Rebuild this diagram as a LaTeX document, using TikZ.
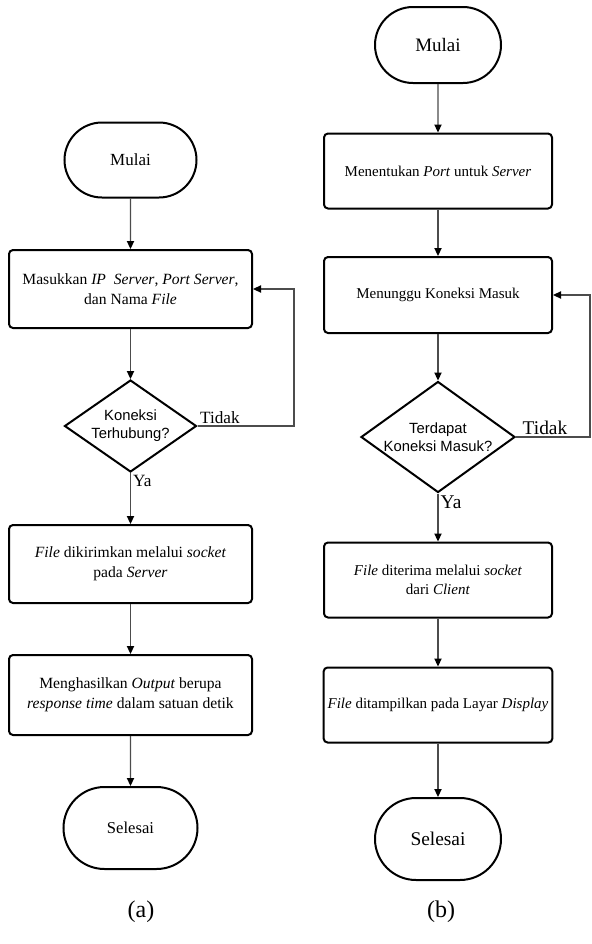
\documentclass[tikz,border=0pt]{standalone}
\usepackage{fontspec}
\setmainfont{Liberation Serif}
\newfontfamily\diafont{Liberation Sans}
\usetikzlibrary{math,arrows.meta,shapes.geometric,shapes.misc}

\tikzset{
  proses/.style={draw, line width=1pt, rounded corners=2pt, align=center, inner sep=2pt,
    font=\fontsize{7.5}{9.5}\selectfont},
  terminal/.style={draw, line width=1pt, rounded rectangle, inner sep=0pt},
  keputusan/.style={draw, line width=1pt, diamond, inner sep=0pt, align=center,
    font=\diafont\fontsize{7.4}{9}\selectfont},
  panah/.style={-{Triangle[width=3.6pt,length=4pt,color=black]}, line width=0.7pt, draw=black!70},
  ket/.style={inner sep=1pt}
}

\begin{document}
\begin{tikzpicture}[x=0.5pt, y=-0.5pt]
  \tikzmath{\xa = 130.5; \xb = 438;}
  \useasboundingbox (0,0) rectangle (591,944);

  % (a) client
  \node[terminal, minimum width=66pt, minimum height=37.5pt, font=\fontsize{8.5}{10}\selectfont] (mulaiA) at (\xa,160) {Mulai};
  \node[proses, minimum width=121.5pt, minimum height=39pt, font=\fontsize{7.8}{10}\selectfont] (inputA) at (\xa,289) {Masukkan \textit{IP}~ \textit{Server}, \textit{Port Server},\\ dan Nama \textit{File}};
  \node[keputusan, minimum width=66pt, minimum height=46pt, shape aspect=1.43] (cekA) at (\xa,426) {Koneksi\\ Terhubung?};
  \node[proses, minimum width=121.5pt, minimum height=39pt, font=\fontsize{7.8}{10}\selectfont] (kirimA) at (\xa,564) {\textit{File} dikirimkan melalui \textit{socket}\\ pada \textit{Server}};
  \node[proses, minimum width=121.5pt, minimum height=40pt, font=\fontsize{7.8}{10}\selectfont] (hasilA) at (\xa,695) {Menghasilkan \textit{Output} berupa\\ \textit{response time} dalam satuan detik};
  \node[terminal, minimum width=67pt, minimum height=41pt, font=\fontsize{8.3}{10}\selectfont] (selesaiA) at (\xa,828) {Selesai};
  \coordinate (balikA) at (294,0);

  \draw[panah] (mulaiA) -- (inputA);
  \draw[panah] (inputA) -- (cekA);
  \draw[panah] (cekA) -- node[ket, pos=0, anchor=north west, font=\fontsize{8.6}{10}\selectfont] {Ya} (kirimA);
  \draw[panah] (kirimA) -- (hasilA);
  \draw[panah] (hasilA) -- (selesaiA);
  \draw[panah] (cekA.east) -- node[ket, pos=0, anchor=south west, font=\fontsize{8.6}{10}\selectfont] {Tidak} (cekA.east -| balikA) |- (inputA.east);

  % (b) server
  \node[terminal, minimum width=63pt, minimum height=38pt, font=\fontsize{9.5}{11}\selectfont] (mulaiB) at (\xb,45) {Mulai};
  \node[proses, minimum width=114pt, minimum height=37.5pt] (portB) at (\xb,171) {Menentukan \textit{Port} untuk \textit{Server}};
  \node[proses, minimum width=114pt, minimum height=38pt] (tungguB) at (\xb,295) {Menunggu Koneksi Masuk};
  \node[keputusan, minimum width=77pt, minimum height=55.5pt, shape aspect=1.39] (cekB) at (\xb,437) {Terdapat\\ Koneksi Masuk?};
  \node[proses, minimum width=114pt, minimum height=37.5pt] (terimaB) at (\xb,580) {\textit{File} diterima melalui \textit{socket}\\ dari \textit{Client}};
  \node[proses, minimum width=114pt, minimum height=37.5pt] (tampilB) at (\xb,705) {\textit{File} ditampilkan pada Layar \textit{Display}};
  \node[terminal, minimum width=63pt, minimum height=41pt, font=\fontsize{9.7}{11}\selectfont] (selesaiB) at (\xb,839) {Selesai};
  \coordinate (balikB) at (590,0);

  \draw[panah] (mulaiB) -- (portB);
  \draw[panah] (portB) -- (tungguB);
  \draw[panah] (tungguB) -- (cekB);
  \draw[panah] (cekB) -- node[ket, pos=0, anchor=north west, font=\fontsize{9.7}{11}\selectfont] {Ya} (terimaB);
  \draw[panah] (terimaB) -- (tampilB);
  \draw[panah] (tampilB) -- (selesaiB);
  \draw[panah] (cekB.east) -- node[ket, pos=0, anchor=south west, xshift=2pt, font=\fontsize{9.7}{11}\selectfont] {Tidak} (cekB.east -| balikB) |- (tungguB.east);

  % keterangan
  \node[font=\fontsize{12}{14}\selectfont] (capA) at (141,912) {(a)};
  \node[font=\fontsize{12}{14}\selectfont] (capB) at (441,912) {(b)};
\end{tikzpicture}
\end{document}
